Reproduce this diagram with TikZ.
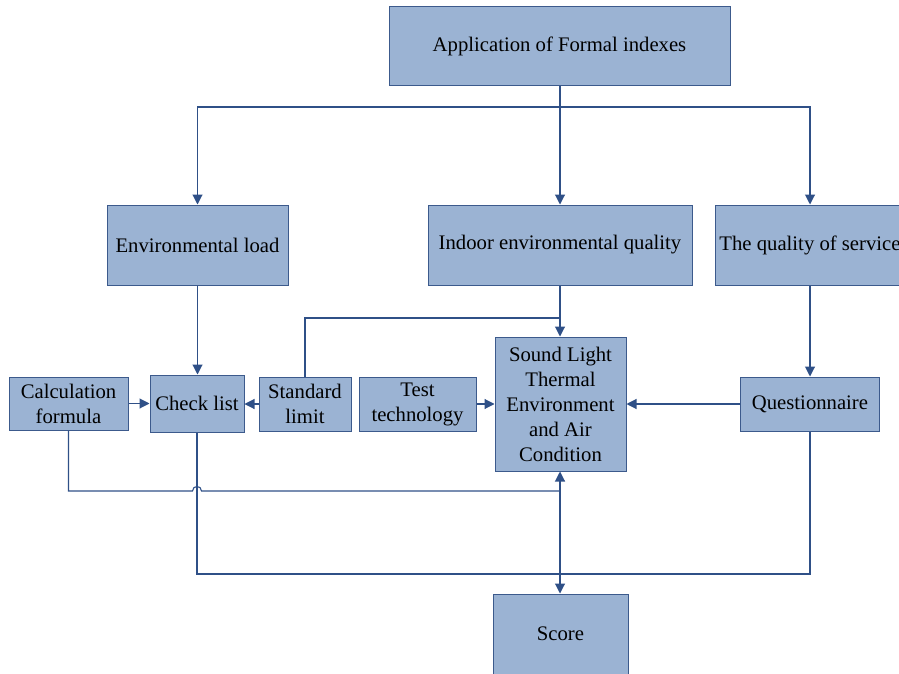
\documentclass[tikz,border=0pt]{standalone}
\usepackage{fontspec}
\setmainfont{Liberation Serif}
\usetikzlibrary{arrows.meta}
\definecolor{boxfill}{RGB}{155,179,211}
\definecolor{boxline}{RGB}{60,90,140}
\definecolor{conn}{RGB}{47,80,135}
\begin{document}
\begin{tikzpicture}[x=1pt,y=-1pt,
  box/.style={draw=boxline, fill=boxfill, line width=1pt, align=center, inner sep=0pt,
    font=\fontsize{20.7}{25}\selectfont},
  conn/.style={draw=conn, line width=1.1pt},
  arr/.style={conn, -{Triangle[length=10pt,width=10pt]}}]
\useasboundingbox (0,0) rectangle (899,674);
\clip (0,0) rectangle (899,674);
\node[box, minimum width=341pt, minimum height=79pt] (app) at (559.5,46.5) {Application of Formal indexes};
\node[box, minimum width=181pt, minimum height=80pt] (env) at (197.5,245) {Environmental load};
\node[box, minimum width=264pt, minimum height=80pt] (ieq) at (560,245) {Indoor environmental quality};
\node[box, minimum width=190pt, minimum height=80pt] (qos) at (810,245) {The quality of service};
\node[box, minimum width=119pt, minimum height=53pt] (calc) at (68.5,403.5) {Calculation\\formula};
\node[box, minimum width=94pt, minimum height=57pt] (check) at (197,403.5) {Check list};
\node[box, minimum width=92pt, minimum height=54pt] (std) at (305,404) {Standard\\limit};
\node[box, minimum width=117pt, minimum height=54pt] (test) at (417.5,404) {Test\\technology};
\node[box, minimum width=131pt, minimum height=134pt] (slt) at (560.5,404) {Sound Light\\Thermal\\Environment\\and Air\\Condition};
\node[box, minimum width=139pt, minimum height=54pt] (quest) at (810,404) {Questionnaire};
\node[box, minimum width=135pt, minimum height=80pt] (score) at (560.5,634) {Score};
% top distribution
\coordinate (t0) at (560,107);
\draw[conn] (app.south -| t0) -- (t0);
\draw[arr] (t0) -| (env.north);
\draw[arr] (t0) -- (ieq.north -| t0);
\draw[arr] (t0) -| (qos.north);
% second level
\draw[arr] (env.south) -- (check.north -| env.south);
\draw[arr] (ieq.south -| t0) -- (slt.north -| t0);
\coordinate (s1) at (305,318);
\draw[conn] (std.north) -- (s1) -- (560,318);
\draw[arr] (qos.south) -- (quest.north);
% horizontal arrows
\draw[arr] (calc.east) -- (check.west |- calc.east);
\draw[arr] (std.west) -- (check.east |- std.west);
\draw[arr] (test.east) -- (slt.west |- test.east);
\draw[arr] (quest.west) -- (slt.east |- quest.west);
% bottom connections
\coordinate (j1) at (560,491);
\coordinate (j2) at (560,574);
\draw[conn] (calc.south) -- (68.5,491) -- (192.5,491) .. controls (192.5,485) and (201.5,485) .. (201.5,491) -- (j1);
\draw[arr] (j1) -- (slt.south -| j1);
\draw[conn] (check.south) -- (197,574) -- (810,574) -- (quest.south);
\draw[arr] (j1) -- (score.north -| j1);
\end{tikzpicture}
\end{document}
